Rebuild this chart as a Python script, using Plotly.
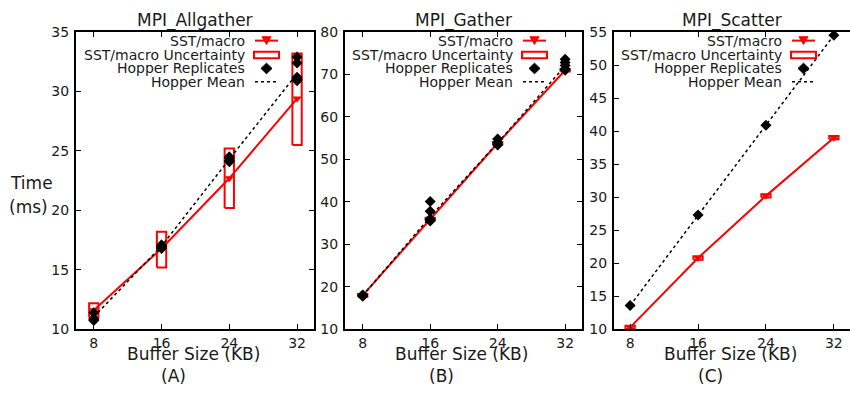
import plotly.graph_objects as go

# ---------------- data ----------------
sizes = [8, 16, 24, 32]

allgather_sst = [11.6, 16.8, 22.7, 29.4]
allgather_unc_lo = [11.0, 15.2, 20.2, 25.5]
allgather_unc_hi = [12.2, 18.2, 25.2, 33.2]
allgather_rep = {
    8: [11.4, 10.9, 10.75, 10.8],
    16: [17.1, 16.9, 17.0, 16.8],
    24: [24.5, 24.2, 24.1, 24.4],
    32: [32.9, 32.4, 31.2, 31.0, 30.9, 31.1],
}
allgather_mean = [11.05, 17.0, 24.3, 31.5]

gather_sst = [18.0, 36.0, 53.8, 71.0]
gather_unc_lo = [17.7, 35.7, 53.5, 70.7]
gather_unc_hi = [18.3, 36.3, 54.1, 71.3]
gather_rep = {
    8: [18.0, 17.8, 18.1],
    16: [40.1, 37.8, 36.0, 35.5, 35.8],
    24: [54.8, 54.0, 53.4, 53.6],
    32: [73.6, 72.8, 72.1, 71.0, 71.3],
}
gather_mean = [17.95, 36.5, 53.9, 72.0]

scatter_sst = [10.3, 20.8, 30.2, 39.0]
scatter_unc_lo = [10.05, 20.55, 29.95, 38.75]
scatter_unc_hi = [10.55, 21.05, 30.45, 39.25]
scatter_rep = {8: [13.6], 16: [27.3], 24: [40.9], 32: [54.5]}
scatter_mean = [13.6, 27.3, 40.9, 54.5]

panel_titles = ["MPI_Allgather", "MPI_Gather", "MPI_Scatter"]
panel_letters = ["(A)", "(B)", "(C)"]
y_ranges = [(10, 35), (10, 80), (10, 55)]
y_dticks = [5, 10, 5]
legend_labels = ["SST/macro", "SST/macro Uncertainty", "Hopper Replicates", "Hopper Mean"]

# ---------------- layout helpers ----------------
W, H = 850, 393
FONT = "DejaVu Sans"
RED = "#ff0000"
TXT = "#1a1a1a"


def px(x):
    return x / W


def py(y):
    return 1 - y / H


panels_px = [(76, 314, 25, 335), (345, 582, 25, 335), (614, 850, 25, 335)]
x_ranges = [(5.9, 34.0), (5.9, 34.0), (6.1, 33.9)]

datasets = [
    (allgather_sst, allgather_unc_lo, allgather_unc_hi, allgather_rep, allgather_mean),
    (gather_sst, gather_unc_lo, gather_unc_hi, gather_rep, gather_mean),
    (scatter_sst, scatter_unc_lo, scatter_unc_hi, scatter_rep, scatter_mean),
]

fig = go.Figure()
box_half = 0.55

for i, (sst, lo, hi, rep, mean) in enumerate(datasets):
    xa = "x" if i == 0 else f"x{i+1}"
    ya = "y" if i == 0 else f"y{i+1}"
    fig.add_trace(go.Scatter(
        x=sizes, y=sst, mode="lines+markers", xaxis=xa, yaxis=ya,
        line=dict(color=RED, width=2),
        marker=dict(symbol="triangle-down", size=8, color=RED),
        showlegend=False, cliponaxis=False))
    bx, by = [], []
    for s, l, h in zip(sizes, lo, hi):
        bx += [s - box_half, s + box_half, s + box_half, s - box_half, s - box_half, None]
        by += [l, l, h, h, l, None]
    fig.add_trace(go.Scatter(
        x=bx, y=by, mode="lines", xaxis=xa, yaxis=ya,
        line=dict(color=RED, width=2), showlegend=False))
    rx, ry = [], []
    for s in sizes:
        for v in rep[s]:
            rx.append(s)
            ry.append(v)
    fig.add_trace(go.Scatter(
        x=rx, y=ry, mode="markers", xaxis=xa, yaxis=ya,
        marker=dict(symbol="diamond", size=8.5, color="black"),
        showlegend=False, cliponaxis=False))
    fig.add_trace(go.Scatter(
        x=sizes, y=mean, mode="lines", xaxis=xa, yaxis=ya,
        line=dict(color="black", width=1.5, dash="dot"), showlegend=False))

layout = dict(
    width=W, height=H, margin=dict(l=0, r=0, t=0, b=0),
    plot_bgcolor="white", paper_bgcolor="white",
    font=dict(family=FONT, color=TXT),
)

shapes = []
annotations = []

for i in range(3):
    L, R, T, B = panels_px[i]
    sfx = "" if i == 0 else str(i + 1)
    axcommon = dict(showline=True, linecolor="black", linewidth=2,
                    ticks="inside", ticklen=5, tickwidth=1.2, tickcolor="black",
                    showgrid=False, zeroline=False,
                    tickfont=dict(family=FONT, size=14, color=TXT))
    layout["xaxis" + sfx] = dict(
        domain=[px(L), px(R)], range=list(x_ranges[i]), tickvals=sizes,
        anchor="y" + sfx, mirror="ticks", ticklabelstandoff=0, **axcommon)
    layout["yaxis" + sfx] = dict(
        domain=[py(B), py(T)], range=list(y_ranges[i]), dtick=y_dticks[i],
        tick0=10, anchor="x" + sfx, ticklabelstandoff=2,
        mirror=("ticks" if i < 2 else False), **axcommon)

    cx = (L + R) / 2
    annotations.append(dict(text=panel_titles[i], x=px(cx), y=py(13), xref="paper", yref="paper",
                            showarrow=False, xanchor="center", yanchor="middle",
                            font=dict(family=FONT, size=17, color=TXT)))
    annotations.append(dict(text="Buffer Size (KB)", x=px(cx - 2), y=py(361), xref="paper", yref="paper",
                            showarrow=False, xanchor="center", yanchor="middle",
                            font=dict(family=FONT, size=17, color=TXT)))
    annotations.append(dict(text=panel_letters[i], x=px(cx - 22), y=py(384), xref="paper", yref="paper",
                            showarrow=False, xanchor="center", yanchor="middle",
                            font=dict(family=FONT, size=17, color=TXT)))

    border = R if i < 2 else 851
    rows = [34, 49, 63, 77]
    tx = border - 67
    for lab, ry_ in zip(legend_labels, rows):
        annotations.append(dict(text=lab, x=px(tx), y=py(ry_), xref="paper", yref="paper",
                                showarrow=False, xanchor="right", yanchor="middle",
                                font=dict(family=FONT, size=14, color=TXT)))
    s0, s1 = border - 59, border - 36
    sc = (s0 + s1) / 2
    shapes.append(dict(type="line", xref="paper", yref="paper", x0=px(s0), x1=px(s1),
                       y0=py(rows[0]), y1=py(rows[0]), line=dict(color=RED, width=2)))
    tri = f"M {px(sc-4.5)},{py(rows[0]-4)} L {px(sc+4.5)},{py(rows[0]-4)} L {px(sc)},{py(rows[0]+4)} Z"
    shapes.append(dict(type="path", xref="paper", yref="paper", path=tri,
                       fillcolor=RED, line=dict(color=RED, width=1)))
    shapes.append(dict(type="rect", xref="paper", yref="paper", x0=px(s0 - 1), x1=px(s1 + 1),
                       y0=py(rows[1] - 3.5), y1=py(rows[1] + 3.5), line=dict(color=RED, width=2)))
    dmd = (f"M {px(sc)},{py(rows[2]-5.5)} L {px(sc+5.5)},{py(rows[2])} "
           f"L {px(sc)},{py(rows[2]+5.5)} L {px(sc-5.5)},{py(rows[2])} Z")
    shapes.append(dict(type="path", xref="paper", yref="paper", path=dmd,
                       fillcolor="black", line=dict(color="black", width=1)))
    shapes.append(dict(type="line", xref="paper", yref="paper", x0=px(s0), x1=px(s1),
                       y0=py(rows[3]), y1=py(rows[3]), line=dict(color="black", width=1.5, dash="dot")))

annotations.append(dict(text="Time", x=px(31), y=py(182), xref="paper", yref="paper",
                        showarrow=False, xanchor="center", yanchor="middle",
                        font=dict(family=FONT, size=17, color=TXT)))
annotations.append(dict(text="(ms)", x=px(28), y=py(207), xref="paper", yref="paper",
                        showarrow=False, xanchor="center", yanchor="middle",
                        font=dict(family=FONT, size=17, color=TXT)))

layout["shapes"] = shapes
layout["annotations"] = annotations
fig.update_layout(**layout)
fig.write_html("out.html")
